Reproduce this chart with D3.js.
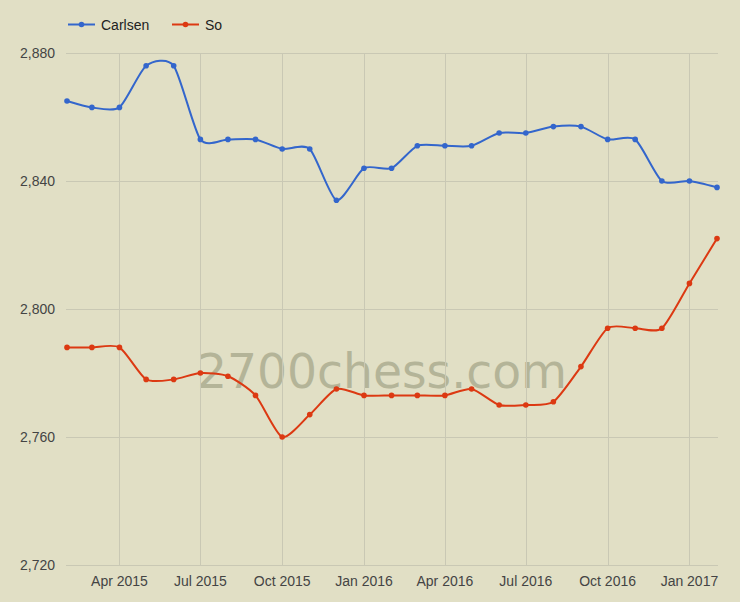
<!DOCTYPE html>
<html>
<head>
<meta charset="utf-8">
<script src="https://cdn.jsdelivr.net/npm/d3@7/dist/d3.min.js"></script>
<style>
  html, body { margin: 0; padding: 0; background: #e1dfc5; }
  svg { display: block; font-family: "Liberation Sans", Arial, sans-serif; }
</style>
</head>
<body>
<svg id="chart" width="740" height="602"></svg>
<script>
const months = ["2015-02","2015-03","2015-04","2015-05","2015-06","2015-07","2015-08","2015-09","2015-10","2015-11","2015-12",
  "2016-01","2016-02","2016-03","2016-04","2016-05","2016-06","2016-07","2016-08","2016-09","2016-10","2016-11","2016-12",
  "2017-01","2017-02"];
const carlsen = [2865,2863,2863,2876,2876,2853,2853,2853,2850,2850,2834,2844,2844,2851,2851,2851,2855,2855,2857,2857,2853,2853,2840,2840,2838];
const so = [2788,2788,2788,2778,2778,2780,2779,2773,2760,2767,2775,2773,2773,2773,2773,2775,2770,2770,2771,2782,2794,2794,2794,2808,2822];
const yTicks = [2720, 2760, 2800, 2840, 2880];
const xTickDates = ["2015-04","2015-07","2015-10","2016-01","2016-04","2016-07","2016-10","2017-01"];
const seriesNames = ["Carlsen", "So"];
const colors = ["#3366cc", "#dc3912"];

const parse = d3.timeParse("%Y-%m");
const dates = months.map(parse);
const svg = d3.select("#chart");

const x = d3.scaleTime().domain([parse("2015-02"), parse("2017-02")]).range([67, 717]);
const y = d3.scaleLinear().domain([2720, 2880]).range([565, 53]);

// watermark
svg.append("text")
  .attr("x", 382).attr("y", 388)
  .attr("text-anchor", "middle")
  .attr("font-family", "'DejaVu Sans', Verdana, sans-serif")
  .attr("font-size", 48)
  .attr("textLength", 370)
  .attr("lengthAdjust", "spacingAndGlyphs")
  .attr("fill", "#b4b498")
  .text("2700chess.com");

// horizontal grid
svg.append("g").selectAll("line").data(yTicks).join("line")
  .attr("x1", 66).attr("x2", 718)
  .attr("y1", d => y(d) + 0.5).attr("y2", d => y(d) + 0.5)
  .attr("stroke", "#c9c8b4").attr("stroke-width", 1);

// vertical grid
const xTicks = xTickDates.map(parse);
svg.append("g").selectAll("line").data(xTicks).join("line")
  .attr("x1", d => Math.round(x(d)) + 0.5).attr("x2", d => Math.round(x(d)) + 0.5)
  .attr("y1", 53).attr("y2", 565)
  .attr("stroke", "#c9c8b4").attr("stroke-width", 1);

// y labels
const fmt = d3.format(",");
svg.append("g").selectAll("text").data(yTicks).join("text")
  .attr("x", 55).attr("y", d => y(d) + 5)
  .attr("text-anchor", "end")
  .attr("font-size", 14).attr("fill", "#444")
  .text(d => fmt(d));

// x labels
const xf = d3.timeFormat("%b %Y");
svg.append("g").selectAll("text").data(xTicks).join("text")
  .attr("x", d => x(d)).attr("y", 586)
  .attr("text-anchor", "middle")
  .attr("font-size", 14).attr("fill", "#444")
  .text(d => xf(d));

// lines
const allSeries = [carlsen, so];
const line = d3.line().x((d, i) => x(dates[i])).y(d => y(d)).curve(d3.curveCardinal.tension(0.3));
allSeries.forEach((s, k) => {
  svg.append("path").datum(s)
    .attr("d", line)
    .attr("fill", "none")
    .attr("stroke", colors[k])
    .attr("stroke-width", 2);
  svg.append("g").selectAll("circle").data(s).join("circle")
    .attr("cx", (d, i) => x(dates[i])).attr("cy", d => y(d))
    .attr("r", 2.8)
    .attr("fill", colors[k]);
});

// legend
const legendX = [68, 172];
seriesNames.forEach((n, k) => {
  const g = svg.append("g");
  g.append("line").attr("x1", legendX[k]).attr("x2", legendX[k] + 27)
    .attr("y1", 24.5).attr("y2", 24.5).attr("stroke", colors[k]).attr("stroke-width", 2);
  g.append("circle").attr("cx", legendX[k] + 13.5).attr("cy", 24.5).attr("r", 2.8).attr("fill", colors[k]);
  g.append("text").attr("x", legendX[k] + 33).attr("y", 29.5)
    .attr("font-size", 14).attr("fill", "#222").text(n);
});
</script>
</body>
</html>
